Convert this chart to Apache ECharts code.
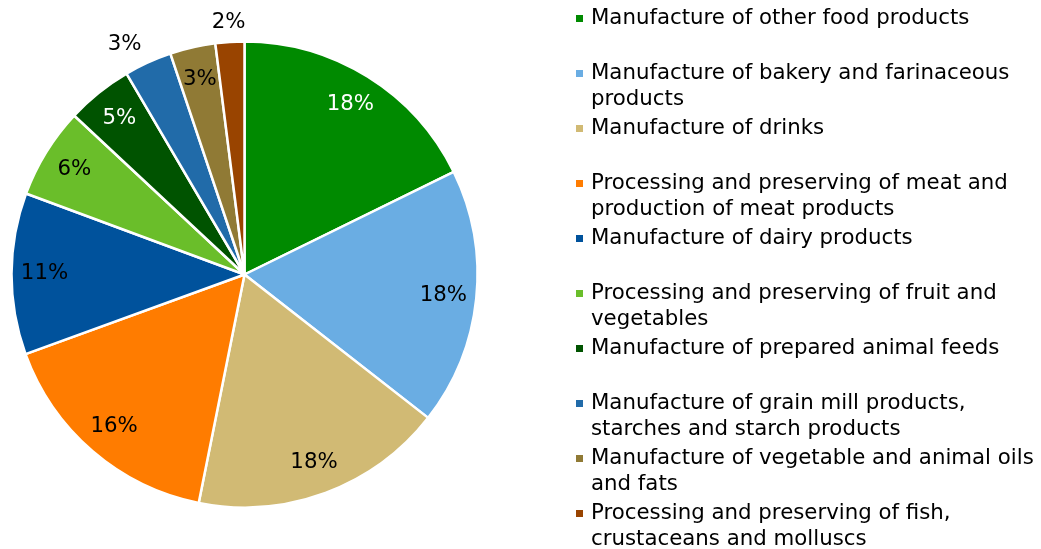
<!DOCTYPE html>
<html>
<head>
<meta charset="utf-8">
<script src="https://cdn.jsdelivr.net/npm/echarts@6/dist/echarts.min.js"></script>
<style>
  html, body { margin: 0; padding: 0; background: #fff; }
  #chart { width: 1041px; height: 549px; }
</style>
</head>
<body>
<div id="chart"></div>
<script>
// Food industry sub-sectors, share of total (%)
const categories = [
  'Manufacture of other food products',
  'Manufacture of bakery and farinaceous products',
  'Manufacture of drinks',
  'Processing and preserving of meat and production of meat products',
  'Manufacture of dairy products',
  'Processing and preserving of fruit and vegetables',
  'Manufacture of prepared animal feeds',
  'Manufacture of grain mill products, starches and starch products',
  'Manufacture of vegetable and animal oils and fats',
  'Processing and preserving of fish, crustaceans and molluscs'
];
const values = [17.75, 17.8, 17.6, 16.3, 11.2, 6.3, 4.6, 3.3, 3.15, 2.0];

// How each legend entry wraps onto two lines
const legendLines = [
  ['Manufacture of other food products', ''],
  ['Manufacture of bakery and farinaceous', 'products'],
  ['Manufacture of drinks', ''],
  ['Processing and preserving of meat and', 'production of meat products'],
  ['Manufacture of dairy products', ''],
  ['Processing and preserving of fruit and', 'vegetables'],
  ['Manufacture of prepared animal feeds', ''],
  ['Manufacture of grain mill products,', 'starches and starch products'],
  ['Manufacture of vegetable and animal oils', 'and fats'],
  ['Processing and preserving of fish,', 'crustaceans and molluscs']
];

const colors = ['#008a00', '#6aade3', '#d1ba74', '#ff7c00', '#00529c',
                '#6abe2a', '#005300', '#216ba9', '#907a35', '#994400'];
const labelColors = ['#fff', '#000', '#000', '#000', '#000',
                     '#000', '#fff', '#000', '#000', '#000'];
// slices whose percentage sits outside the pie
const outsideLabel = [false, false, false, false, false, false, false, true, false, true];
const outsideOffset = [null, null, null, null, null, null, null, [-15, 0], null, [0, 0]];

const FONT = 'DejaVu Sans';
const FS = 21.3;
const center = [244.5, 274.5];
const R = 233;

const pctFmt = p => Math.round(p.percent) + '%';

const rich = {
  g: { width: 8, fontSize: FS, lineHeight: 26 },
  ind: { width: 15, fontSize: FS, lineHeight: 26 },
  t: { fontFamily: FONT, fontSize: FS, lineHeight: 26, color: '#000' }
};
colors.forEach((c, i) => {
  rich['s' + i] = { width: 7, height: 7, backgroundColor: c, fontSize: 1, lineHeight: 26 };
});

const option = {
  animation: false,
  color: colors,
  legend: {
    type: 'plain',
    orient: 'vertical',
    left: 571,
    top: 8,
    height: 620,
    padding: 0,
    itemGap: 8,
    icon: 'none',
    itemWidth: 0,
    itemHeight: 0,
    data: categories,
    selectedMode: false,
    formatter: name => {
      const i = categories.indexOf(name);
      const [a, b] = legendLines[i];
      return '{s' + i + '| }{g| }{t|' + a + '}\n{ind| }{t|' + (b || ' ') + '}';
    },
    textStyle: { fontFamily: FONT, fontSize: FS, rich: rich }
  },
  series: [
    {
      // the pie itself
      type: 'pie',
      center: center,
      radius: R,
      startAngle: 90,
      clockwise: true,
      avoidLabelOverlap: false,
      label: { show: false },
      labelLine: { show: false },
      itemStyle: { borderColor: '#fff', borderWidth: 2.5 },
      emphasis: { disabled: true },
      data: categories.map((n, i) => ({ name: n, value: values[i] }))
    },
    {
      // percentage labels inside the slices
      type: 'pie',
      center: center,
      radius: [162, 232],
      startAngle: 90,
      clockwise: true,
      silent: true,
      avoidLabelOverlap: false,
      labelLine: { show: false },
      itemStyle: { color: 'transparent' },
      emphasis: { disabled: true },
      data: categories.map((n, i) => ({
        name: n,
        value: values[i],
        label: {
          show: !outsideLabel[i],
          position: 'inside',
          formatter: pctFmt,
          fontFamily: FONT,
          fontSize: FS,
          color: labelColors[i]
        }
      }))
    },
    {
      // percentage labels just outside the thin slices
      type: 'pie',
      center: center,
      radius: [232, 268],
      startAngle: 90,
      clockwise: true,
      silent: true,
      avoidLabelOverlap: false,
      labelLine: { show: false },
      itemStyle: { color: 'transparent' },
      emphasis: { disabled: true },
      data: categories.map((n, i) => ({
        name: n,
        value: values[i],
        label: {
          show: outsideLabel[i],
          position: 'inside',
          offset: outsideOffset[i] || [0, 0],
          formatter: pctFmt,
          fontFamily: FONT,
          fontSize: FS,
          color: '#000'
        }
      }))
    }
  ]
};

const chart = echarts.init(document.getElementById('chart'), null, { renderer: 'canvas' });
chart.setOption(option);
</script>
</body>
</html>
